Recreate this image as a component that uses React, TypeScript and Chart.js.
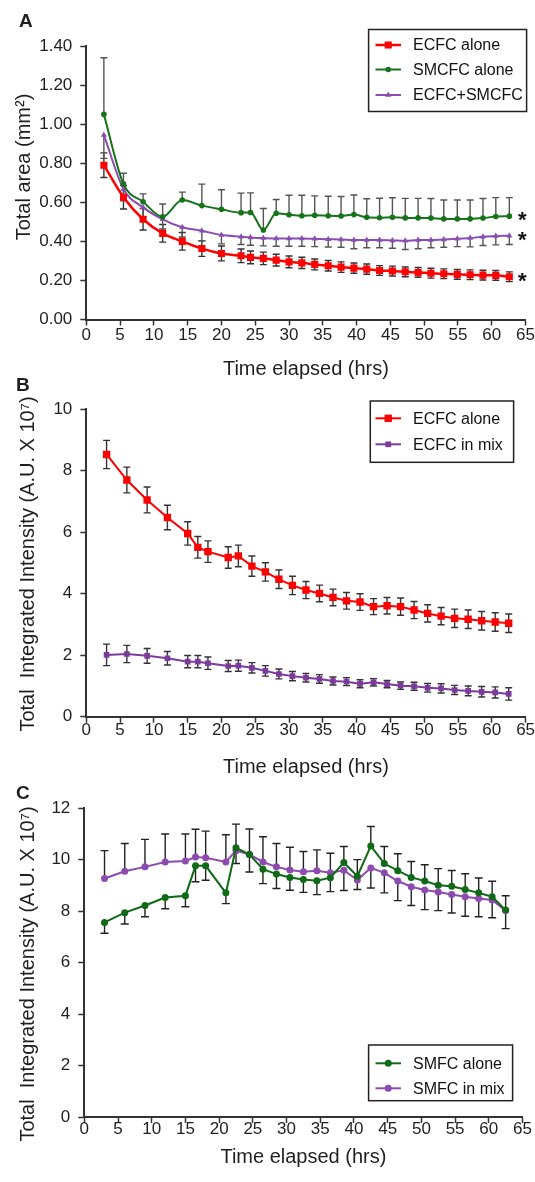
import React, { useEffect, useRef } from 'react';
import Chart from 'chart.js/auto';
import { drawPoint } from 'chart.js/helpers';

const FONT = "'Liberation Sans', Arial, Helvetica, sans-serif";
const TEXT = '#1f1f1f';
const AXIS = '#333333';
const ERR = '#333333';

// ---------- Panel A : Total area (mm²) ----------
const timesA = [2.6, 5.5, 8.4, 11.3, 14.2, 17.1, 20.0, 22.9, 24.3, 26.2, 28.1, 30.0, 31.9, 33.8, 35.8, 37.7, 39.6, 41.5, 43.4, 45.3, 47.2, 49.1, 51.0, 52.9, 54.9, 56.8, 58.7, 60.6, 62.6];
const areaEcfcAlone = [0.79, 0.626, 0.513, 0.441, 0.40, 0.363, 0.338, 0.326, 0.318, 0.313, 0.304, 0.295, 0.29, 0.282, 0.275, 0.268, 0.263, 0.258, 0.251, 0.248, 0.244, 0.241, 0.237, 0.234, 0.231, 0.229, 0.227, 0.226, 0.219];
const areaEcfcAloneErr = [0.063, 0.06, 0.055, 0.045, 0.045, 0.04, 0.038, 0.035, 0.033, 0.032, 0.03, 0.03, 0.029, 0.028, 0.027, 0.027, 0.026, 0.026, 0.025, 0.025, 0.025, 0.025, 0.025, 0.025, 0.025, 0.025, 0.025, 0.025, 0.025];
const areaSmcfcAlone = [1.05, 0.694, 0.603, 0.526, 0.612, 0.583, 0.564, 0.547, 0.548, 0.458, 0.544, 0.536, 0.531, 0.533, 0.531, 0.53, 0.537, 0.523, 0.521, 0.523, 0.52, 0.52, 0.519, 0.515, 0.515, 0.515, 0.519, 0.527, 0.529];
const areaSmcfcAloneErrUp = [0.29, 0.055, 0.04, 0.065, 0.04, 0.11, 0.10, 0.10, 0.10, 0.11, 0.07, 0.10, 0.105, 0.1, 0.1, 0.1, 0.1, 0.095, 0.1, 0.1, 0.1, 0.1, 0.1, 0.097, 0.097, 0.097, 0.1, 0.097, 0.095];
const areaMix = [0.945, 0.668, 0.574, 0.513, 0.472, 0.454, 0.432, 0.424, 0.42, 0.417, 0.415, 0.415, 0.415, 0.413, 0.411, 0.41, 0.407, 0.407, 0.407, 0.405, 0.403, 0.407, 0.407, 0.41, 0.413, 0.417, 0.424, 0.427, 0.429];
const areaMixErrDown = [0.12, 0.06, 0.05, 0.05, 0.05, 0.05, 0.045, 0.04, 0.04, 0.04, 0.04, 0.04, 0.04, 0.04, 0.04, 0.04, 0.045, 0.04, 0.04, 0.04, 0.045, 0.045, 0.04, 0.04, 0.04, 0.045, 0.045, 0.045, 0.045];
const yTicksA = { min: 0, max: 1.4, step: 0.2, decimals: 2 };

// ---------- Panels B and C share the time points ----------
const timesBC = [3, 6, 9, 12, 15, 16.5, 18, 21, 22.5, 24.5, 26.5, 28.5, 30.5, 32.5, 34.5, 36.5, 38.5, 40.5, 42.5, 44.5, 46.5, 48.5, 50.5, 52.5, 54.5, 56.5, 58.5, 60.5, 62.5];

// ---------- Panel B : ECFC integrated intensity ----------
const ecfcAloneB = [8.53, 7.70, 7.05, 6.48, 5.96, 5.51, 5.37, 5.18, 5.23, 4.90, 4.71, 4.47, 4.27, 4.12, 4.01, 3.88, 3.77, 3.73, 3.58, 3.61, 3.58, 3.47, 3.36, 3.27, 3.20, 3.17, 3.12, 3.08, 3.04];
const ecfcAloneBErr = [0.46, 0.42, 0.42, 0.4, 0.38, 0.35, 0.35, 0.35, 0.35, 0.33, 0.3, 0.3, 0.3, 0.28, 0.27, 0.27, 0.27, 0.27, 0.26, 0.27, 0.28, 0.28, 0.28, 0.28, 0.3, 0.3, 0.3, 0.3, 0.3];
const ecfcMixB = [2.01, 2.04, 1.98, 1.90, 1.79, 1.79, 1.74, 1.65, 1.66, 1.59, 1.49, 1.39, 1.32, 1.27, 1.23, 1.16, 1.14, 1.07, 1.12, 1.06, 1.01, 0.99, 0.94, 0.92, 0.87, 0.84, 0.81, 0.79, 0.74];
const ecfcMixBErr = [0.35, 0.28, 0.24, 0.22, 0.2, 0.2, 0.2, 0.18, 0.18, 0.17, 0.17, 0.16, 0.15, 0.14, 0.14, 0.13, 0.13, 0.13, 0.12, 0.12, 0.12, 0.13, 0.14, 0.15, 0.15, 0.16, 0.17, 0.18, 0.2];
const yTicksB = { min: 0, max: 10, step: 2, decimals: 0 };

// ---------- Panel C : SMFC integrated intensity ----------
const smfcAloneC = [7.56, 7.94, 8.22, 8.53, 8.60, 9.76, 9.76, 8.71, 10.46, 10.2, 9.63, 9.44, 9.31, 9.23, 9.18, 9.30, 9.89, 9.36, 10.53, 9.85, 9.57, 9.31, 9.17, 9.01, 8.97, 8.84, 8.71, 8.56, 8.04];
const smfcAloneCErrUp = [0, 0, 0, 0, 0, 0, 0, 0, 0.92, 0, 0, 0, 0, 0, 0, 0, 0.62, 0.64, 0.76, 0.66, 0.66, 0.62, 0.63, 0.64, 0.61, 0.61, 0.58, 0.60, 0.56];
const smfcAloneCErrDown = [0.42, 0.44, 0.44, 0.44, 0.43, 0.62, 0.56, 0.42, 0, 0.68, 0.56, 0.56, 0.5, 0.5, 0.54, 0.54, 0, 0, 0, 0, 0, 0, 0, 0, 0, 0, 0, 0, 0];
const smfcMixC = [9.27, 9.55, 9.72, 9.91, 9.95, 10.1, 10.07, 9.91, 10.35, 10.2, 9.91, 9.72, 9.60, 9.53, 9.57, 9.49, 9.59, 9.21, 9.68, 9.49, 9.17, 8.95, 8.82, 8.74, 8.65, 8.56, 8.49, 8.43, 8.02];
const smfcMixCErrUp = [1.08, 1.08, 1.07, 1.09, 1.05, 1.08, 1.04, 1.06, 0, 0.99, 0.98, 0.91, 0.88, 0.79, 0.81, 0.76, 0, 0, 0, 0, 0, 0, 0, 0, 0, 0, 0, 0, 0];
const smfcMixCErrDown = [0, 0, 0, 0, 0, 0, 0, 0, 0.5, 0, 0, 0, 0, 0, 0, 0, 0.79, 0.37, 0.78, 0.78, 0.76, 0.73, 0.76, 0.72, 0.72, 0.76, 0.71, 0.69, 0.70];
const yTicksC = { min: 0, max: 12, step: 2, decimals: 0 };

const xTicks = { min: 0, max: 65, step: 5 };

const toXY = (xs: number[], ys: number[]) => xs.map((x, i) => ({ x, y: ys[i] }));

// ---------- plugins ----------
const errorBars = {
  id: 'errorBars',
  beforeDatasetsDraw(chart: any) {
    const { ctx } = chart;
    chart.data.datasets.forEach((ds: any, i: number) => {
      const meta = chart.getDatasetMeta(i);
      if (!ds.errPlus && !ds.errMinus) return;
      const yScale = chart.scales[meta.yAxisID];
      ctx.save();
      ctx.strokeStyle = ds.errColor || ERR;
      ctx.lineWidth = 1.4;
      const cap = ds.errCap || 3.5;
      meta.data.forEach((el: any, j: number) => {
        const v = ds.data[j].y;
        const x = el.x;
        const ends: number[] = [];
        if (ds.errPlus && ds.errPlus[j]) ends.push(yScale.getPixelForValue(v + ds.errPlus[j]));
        if (ds.errMinus && ds.errMinus[j]) ends.push(yScale.getPixelForValue(v - ds.errMinus[j]));
        ends.forEach((ye) => {
          ctx.beginPath();
          ctx.moveTo(x, el.y);
          ctx.lineTo(x, ye);
          ctx.moveTo(x - cap, ye);
          ctx.lineTo(x + cap, ye);
          ctx.stroke();
        });
      });
      ctx.restore();
    });
  },
};

const boxLegend = {
  id: 'boxLegend',
  afterDraw(chart: any, _args: any, opts: any) {
    if (!opts || !opts.box) return;
    const { ctx } = chart;
    const { x, y, w, h } = opts.box;
    ctx.save();
    ctx.fillStyle = '#ffffff';
    ctx.fillRect(x, y, w, h);
    ctx.strokeStyle = '#222';
    ctx.lineWidth = 1.5;
    ctx.strokeRect(x, y, w, h);
    ctx.font = `${opts.fontSize}px ${FONT}`;
    ctx.textBaseline = 'middle';
    ctx.textAlign = 'left';
    chart.data.datasets.forEach((ds: any, i: number) => {
      const ry = opts.rows[i];
      ctx.strokeStyle = ds.borderColor;
      ctx.lineWidth = ds.borderWidth;
      ctx.beginPath();
      ctx.moveTo(opts.lineX1, ry);
      ctx.lineTo(opts.lineX2, ry);
      ctx.stroke();
      ctx.fillStyle = ds.pointBackgroundColor;
      ctx.strokeStyle = ds.pointBackgroundColor;
      drawPoint(ctx, { pointStyle: ds.pointStyle, radius: ds.pointRadius, borderWidth: 0, rotation: 0 } as any, (opts.lineX1 + opts.lineX2) / 2, ry);
      ctx.fillStyle = '#111';
      ctx.fillText(ds.label, opts.textX, ry + 1);
    });
    ctx.restore();
  },
};

const asterisks = {
  id: 'asterisks',
  afterDraw(chart: any, _args: any, opts: any) {
    if (!opts || !opts.show) return;
    const { ctx } = chart;
    ctx.save();
    ctx.font = `bold ${opts.size}px ${FONT}`;
    ctx.fillStyle = '#111';
    ctx.textAlign = 'center';
    ctx.textBaseline = 'middle';
    chart.data.datasets.forEach((_ds: any, i: number) => {
      const meta = chart.getDatasetMeta(i);
      const last = meta.data[meta.data.length - 1];
      ctx.fillText('*', last.x + opts.dx, last.y + opts.dy);
    });
    ctx.restore();
  },
};

// y-axis title drawn rotated at a chosen centre
const yAxisTitle = {
  id: 'yAxisTitle',
  afterDraw(chart: any, _args: any, opts: any) {
    if (!opts || !opts.text) return;
    const { ctx } = chart;
    ctx.save();
    ctx.translate(opts.x, opts.y);
    ctx.rotate(-Math.PI / 2);
    ctx.font = `${opts.size}px ${FONT}`;
    ctx.fillStyle = TEXT;
    ctx.textAlign = 'center';
    ctx.textBaseline = 'middle';
    ctx.fillText(opts.text, 0, 0);
    ctx.restore();
  },
};

type PanelSpec = {
  datasets: any[];
  yT: { min: number; max: number; step: number; decimals: number };
  yTitle: { text: string; x: number; y: number; size: number };
  topPad: number;
  rightPad: number;
  yWidth: number;
  xHeight: number;
  xTickPad: number;
  xTitlePadBottom: number;
  legend: any;
  asterisk?: any;
  tension?: boolean;
};

function buildConfig(p: PanelSpec): any {
  return {
    type: 'line',
    data: { datasets: p.datasets },
    options: {
      responsive: false,
      animation: false,
      devicePixelRatio: 1,
      layout: { padding: { left: 0, right: p.rightPad, top: p.topPad, bottom: 0 } },
      elements: { line: { cubicInterpolationMode: p.tension ? 'monotone' : 'default' } },
      plugins: {
        legend: { display: false },
        tooltip: { enabled: false },
        boxLegend: p.legend,
        asterisks: p.asterisk || { show: false },
        yAxisTitle: p.yTitle,
      },
      scales: {
        x: {
          type: 'linear',
          min: xTicks.min,
          max: xTicks.max,
          ticks: {
            stepSize: xTicks.step,
            font: { family: FONT, size: 17 },
            color: TEXT,
            padding: p.xTickPad,
            maxRotation: 0,
            autoSkip: false,
          },
          grid: { display: true, drawOnChartArea: false, drawTicks: true, tickLength: 6, tickWidth: 1.5, tickColor: AXIS },
          border: { display: true, color: AXIS, width: 2 },
          title: {
            display: true,
            text: 'Time elapsed (hrs)',
            font: { family: FONT, size: 20 },
            color: TEXT,
            padding: { top: 0, bottom: p.xTitlePadBottom },
          },
          afterFit: (s: any) => { s.height = p.xHeight; },
        },
        y: {
          type: 'linear',
          min: p.yT.min,
          max: p.yT.max,
          ticks: {
            stepSize: p.yT.step,
            font: { family: FONT, size: 17 },
            color: TEXT,
            padding: 8,
            callback: (v: any) => Number(v).toFixed(p.yT.decimals),
          },
          grid: { display: true, drawOnChartArea: false, drawTicks: true, tickLength: 6, tickWidth: 1.5, tickColor: AXIS },
          border: { display: true, color: AXIS, width: 2 },
          title: { display: false },
          afterFit: (s: any) => { s.width = p.yWidth; },
        },
      },
    },
    plugins: [errorBars, boxLegend, asterisks, yAxisTitle],
  };
}

const RED = '#ff0000';
const GREEN_A = '#16731a';
const PURPLE_A = '#8a4db3';
const PURPLE_B = '#7b3a9c';
const GREEN_C = '#0f6a16';
const PURPLE_C = '#8d4bb0';

const line = (label: string, xs: number[], ys: number[], color: string, style: string, radius: number, extra: any) => ({
  label,
  data: toXY(xs, ys),
  borderColor: color,
  backgroundColor: color,
  pointBackgroundColor: color,
  pointBorderColor: color,
  pointBorderWidth: 0,
  pointStyle: style,
  pointRadius: radius,
  borderWidth: 2,
  ...extra,
});

const panelA: PanelSpec = {
  datasets: [
    line('ECFC alone', timesA, areaEcfcAlone, RED, 'rect', 5, { errPlus: areaEcfcAloneErr, errMinus: areaEcfcAloneErr, borderWidth: 2.5 }),
    line('SMCFC alone', timesA, areaSmcfcAlone, GREEN_A, 'circle', 2.8, { errPlus: areaSmcfcAloneErrUp, errColor: '#555' }),
    line('ECFC+SMCFC', timesA, areaMix, PURPLE_A, 'triangle', 3.5, { errMinus: areaMixErrDown, errColor: '#555' }),
  ],
  yT: yTicksA,
  yTitle: { text: 'Total area (mm²)', x: 24, y: 167, size: 20 },
  topPad: 46,
  rightPad: 9.4,
  yWidth: 86.3,
  xHeight: 68.5,
  xTickPad: 0,
  xTitlePadBottom: 7,
  legend: { box: { x: 368.6, y: 29.5, w: 158, h: 82 }, rows: [45, 69.5, 95], lineX1: 375.5, lineX2: 401, textX: 413, fontSize: 16 },
  asterisk: { show: true, dx: 13, dy: 5, size: 22 },
  tension: true,
};

const panelB: PanelSpec = {
  datasets: [
    line('ECFC alone', timesBC, ecfcAloneB, RED, 'rect', 5.2, { errPlus: ecfcAloneBErr, errMinus: ecfcAloneBErr }),
    line('ECFC in mix', timesBC, ecfcMixB, PURPLE_B, 'rect', 4, { errPlus: ecfcMixBErr, errMinus: ecfcMixBErr }),
  ],
  yT: yTicksB,
  yTitle: { text: 'Total  Integrated Intensity (A.U. X 10⁷)', x: 28, y: 176, size: 20 },
  topPad: 21.3,
  rightPad: 9.4,
  yWidth: 86.3,
  xHeight: 73.3,
  xTickPad: -2.5,
  xTitlePadBottom: 10.5,
  legend: { box: { x: 370.3, y: 13, w: 143.3, h: 61.3 }, rows: [30.3, 56.3], lineX1: 375.5, lineX2: 401, textX: 413, fontSize: 16 },
};

const panelC: PanelSpec = {
  datasets: [
    line('SMFC alone', timesBC, smfcAloneC, GREEN_C, 'circle', 3.5, { errPlus: smfcAloneCErrUp, errMinus: smfcAloneCErrDown, errColor: '#222', errCap: 4 }),
    line('SMFC in mix', timesBC, smfcMixC, PURPLE_C, 'circle', 3.5, { errPlus: smfcMixCErrUp, errMinus: smfcMixCErrDown, errColor: '#222', errCap: 4 }),
  ],
  yT: yTicksC,
  yTitle: { text: 'Total  Integrated Intensity (A.U. X 10⁷)', x: 28, y: 184, size: 20 },
  topPad: 17.7,
  rightPad: 12.5,
  yWidth: 84.3,
  xHeight: 65,
  xTickPad: -4,
  xTitlePadBottom: 13,
  legend: { box: { x: 368.6, y: 255, w: 144, h: 55.7 }, rows: [273.3, 298.3], lineX1: 375.5, lineX2: 401, textX: 413, fontSize: 16 },
};

function Panel({ spec, top, height }: { spec: PanelSpec; top: number; height: number }) {
  const ref = useRef<HTMLCanvasElement>(null);
  useEffect(() => {
    const chart = new Chart(ref.current as HTMLCanvasElement, buildConfig(spec));
    return () => chart.destroy();
  }, []);
  return (
    <canvas
      ref={ref}
      width={535}
      height={height}
      style={{ position: 'absolute', left: 0, top, width: 535, height, display: 'block' }}
    />
  );
}

const letterStyle = (left: number, top: number): React.CSSProperties => ({
  position: 'absolute',
  left,
  top,
  font: `bold 19px ${FONT}`,
  lineHeight: '19px',
  color: TEXT,
});

export default function App() {
  return (
    <div style={{ position: 'absolute', left: 0, top: 0, width: 535, height: 1182, background: '#fff', overflow: 'hidden' }}>
      <Panel spec={panelA} top={0} height={388} />
      <Panel spec={panelB} top={388} height={402} />
      <Panel spec={panelC} top={790} height={392} />
      <div style={letterStyle(19, 11)}>A</div>
      <div style={letterStyle(16, 375)}>B</div>
      <div style={letterStyle(16, 783)}>C</div>
    </div>
  );
}
